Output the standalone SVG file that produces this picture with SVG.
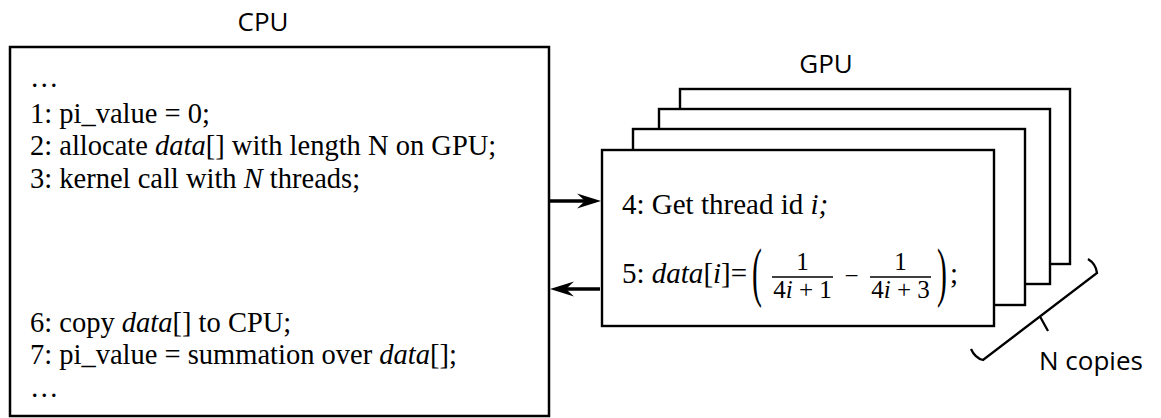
<svg xmlns="http://www.w3.org/2000/svg" width="1161" height="418" viewBox="0 0 1161 418">
<style>
.lbl{font-family:"Open Sans","Liberation Sans",sans-serif;font-size:26px;fill:#000}
.code{font-family:"Liberation Serif","Times New Roman",serif;font-size:28.5px;fill:#000}
.math{font-family:"Liberation Serif","Times New Roman",serif;font-size:25px;fill:#000}
.it{font-style:italic}
.box{fill:#fff;stroke:#000;stroke-width:2.5}
.gbox{fill:#fff;stroke:#000;stroke-width:2.4}
.shaft{stroke:#000;stroke-width:3.3;fill:none}
.head{fill:#000;stroke:none}
</style>
<rect width="1161" height="418" fill="#fff"/>
<g id="cpu">
  <text class="lbl" x="263" y="31" text-anchor="middle">CPU</text>
  <rect class="box" x="10" y="47" width="539" height="369"/>
  <text class="code" x="30" y="87">…</text>
  <text class="code" x="30" y="122.5">1: pi_value = 0;</text>
  <text class="code" x="30" y="155">2: allocate <tspan class="it">data</tspan>[] with length N on GPU;</text>
  <text class="code" x="30" y="187.5">3: kernel call with <tspan class="it">N</tspan> threads;</text>
  <text class="code" x="30" y="332">6: copy <tspan class="it">data</tspan>[] to CPU;</text>
  <text class="code" x="30" y="364">7: pi_value = summation over <tspan class="it">data</tspan>[];</text>
  <text class="code" x="30" y="397">…</text>
</g>
<g id="gpu">
  <text class="lbl" x="826" y="73" text-anchor="middle">GPU</text>
  <rect class="gbox" x="680" y="89" width="390" height="175"/>
  <rect class="gbox" x="659" y="109" width="391" height="175"/>
  <rect class="gbox" x="633" y="129" width="392" height="176"/>
  <rect class="gbox" x="602" y="150" width="392" height="176"/>
  <text class="code" x="622" y="214" style="font-size:29px">4: Get thread id <tspan class="it">i;</tspan></text>
  <text class="code" x="622" y="283" style="font-size:29px">5: <tspan class="it">data</tspan>[<tspan class="it">i</tspan>]=</text>
  <text class="math" transform="translate(752,294) scale(0.45,1)" style="font-size:66px">(</text>
  <text class="math" x="802.5" y="270" text-anchor="middle">1</text>
  <line x1="772" y1="277" x2="833" y2="277" stroke="#000" stroke-width="1.3"/>
  <text class="math" x="802.5" y="298" text-anchor="middle">4<tspan class="it">i</tspan> + 1</text>
  <text class="math" x="851.5" y="283.5" text-anchor="middle">−</text>
  <text class="math" x="900.5" y="270" text-anchor="middle">1</text>
  <line x1="870" y1="277" x2="931" y2="277" stroke="#000" stroke-width="1.3"/>
  <text class="math" x="900.5" y="298" text-anchor="middle">4<tspan class="it">i</tspan> + 3</text>
  <text class="math" transform="translate(937,294) scale(0.45,1)" style="font-size:66px">)</text>
  <text class="code" x="950" y="283" style="font-size:29px">;</text>
</g>
<g id="copies">
  <path d="M1088,259 Q1096,264 1097,273 L983,360 Q975,358 971,349 M1040,316.5 L1048,331" fill="none" stroke="#000" stroke-width="2.3" stroke-linejoin="miter"/>
  <text class="lbl" x="1039" y="370">N copies</text>
</g>
<g id="connectors">
  <line class="shaft" x1="550" y1="201" x2="588" y2="201"/>
  <path class="head" d="M601,201 L577,193.5 L585,201 L577,208.5 Z"/>
  <line class="shaft" x1="600" y1="289" x2="563" y2="289"/>
  <path class="head" d="M550,289 L574,281.5 L566,289 L574,296.5 Z"/>
</g>
</svg>
